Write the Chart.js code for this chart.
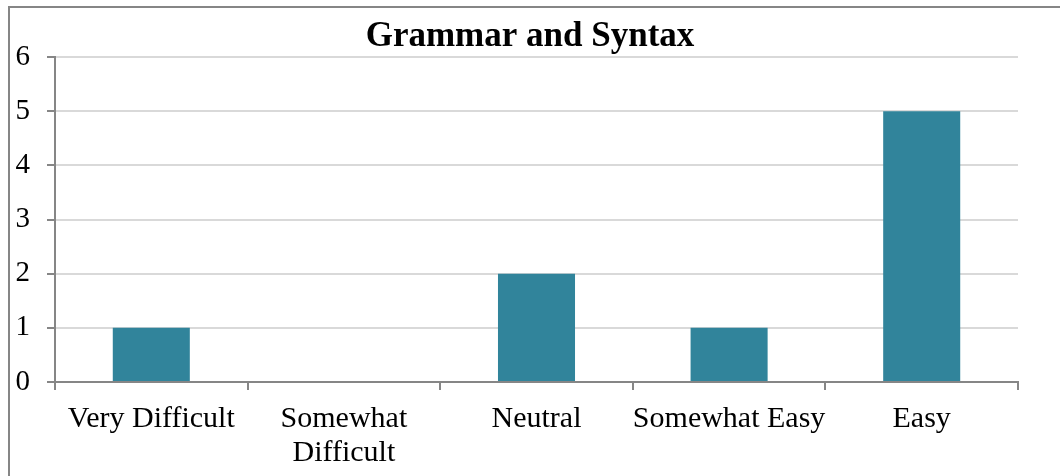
<!DOCTYPE html>
<html>
<head>
<meta charset="utf-8">
<script src="https://cdn.jsdelivr.net/npm/chart.js@4"></script>
<style>
  html, body { margin: 0; padding: 0; background: #fff; }
  #wrap { position: relative; width: 1060px; height: 476px; overflow: hidden; }
  #frame {
    position: absolute; left: 8px; top: 6px; width: 1100px; height: 520px;
    border-left: 2px solid #868686; border-top: 2px solid #868686;
    box-sizing: border-box; pointer-events: none;
  }
  canvas { position: absolute; left: 0; top: 0; }
</style>
</head>
<body>
<div id="wrap">
  <canvas id="chart" width="1060" height="476"></canvas>
  <div id="frame"></div>
</div>
<script>
// survey responses
const categories = ['Very Difficult', ['Somewhat', 'Difficult'], 'Neutral', 'Somewhat Easy', 'Easy'];
const counts = [1, 0, 2, 1, 5];
const yTicks = [0, 1, 2, 3, 4, 5, 6];

const serif = '"Liberation Serif", "Times New Roman", serif';
const axisGray = '#868686';
const gridGray = '#d9d9d9';

var chart = new Chart(document.getElementById('chart'), {
  type: 'bar',
  data: {
    labels: categories,
    datasets: [{
      data: counts,
      backgroundColor: '#31849b',
      borderWidth: 0,
      barPercentage: 0.4,
      categoryPercentage: 1.0
    }]
  },
  options: {
    responsive: false,
    animation: false,
    layout: { padding: 0 },
    plugins: {
      legend: { display: false },
      tooltip: { enabled: false },
      title: {
        display: true,
        text: 'Grammar and Syntax',
        color: '#000',
        font: { family: serif, size: 35, weight: 'bold', lineHeight: 1 },
        padding: { top: 19, bottom: 3 }
      }
    },
    scales: {
      x: {
        offset: true,
        grid: {
          offset: true,
          drawOnChartArea: false,
          tickLength: 8,
          tickColor: axisGray,
          lineWidth: 2
        },
        border: { color: axisGray, width: 2 },
        ticks: {
          color: '#000',
          padding: 12,
          maxRotation: 0,
          autoSkip: false,
          font: { family: serif, size: 30, lineHeight: 1.13 }
        },
        afterFit(scale) { scale.height = 94; }
      },
      y: {
        min: 0,
        max: 6,
        afterBuildTicks(scale) { scale.ticks = yTicks.map(v => ({ value: v })); },
        grid: {
          color: gridGray,
          lineWidth: 2,
          tickLength: 8,
          tickColor: axisGray
        },
        border: { color: axisGray, width: 2 },
        ticks: {
          color: '#000',
          padding: 17,
          font: { family: serif, size: 29 }
        },
        afterFit(scale) { scale.width = 55; }
      },
      // empty strip on the right so the plot stops short of the edge
      spacer: {
        position: 'right',
        grid: { display: false },
        border: { display: false },
        ticks: { display: false },
        afterFit(scale) { scale.width = 42; }
      }
    }
  }
});
</script>
</body>
</html>
